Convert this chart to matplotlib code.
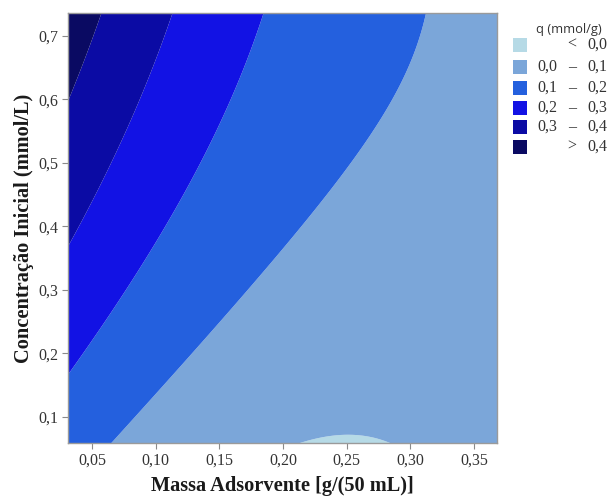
import numpy as np
import matplotlib
matplotlib.use("Agg")
import matplotlib.pyplot as plt
from matplotlib.patches import Rectangle

# Response-surface model q(m, C) = b0 + b1 m + b2 C + b11 m^2 + b22 C^2 + b12 m C
coef_names = ["b0", "b1", "b2", "b11", "b22", "b12"]
coef_values = [0.15152, -1.46499, 0.60431, 3.08407, -0.13611, -1.15666]

x_range = [0.031, 0.368]   # Massa Adsorvente
y_range = [0.059, 0.736]   # Concentração Inicial
levels = [-1.0, 0.0, 0.1, 0.2, 0.3, 0.4, 5.0]
colors = ["#b6dae6", "#7ba6d9", "#2460de", "#1212e4", "#0b0ba4", "#0a0a62"]
legend_labels = [("", "<", "0,0"), ("0,0", "–", "0,1"), ("0,1", "–", "0,2"),
                 ("0,2", "–", "0,3"), ("0,3", "–", "0,4"), ("", ">", "0,4")]
xticks = [0.05, 0.10, 0.15, 0.20, 0.25, 0.30, 0.35]
xticklabels = ["0,05", "0,10", "0,15", "0,20", "0,25", "0,30", "0,35"]
yticks = [0.1, 0.2, 0.3, 0.4, 0.5, 0.6, 0.7]
yticklabels = ["0,1", "0,2", "0,3", "0,4", "0,5", "0,6", "0,7"]

b = np.array(coef_values)
m = np.linspace(x_range[0], x_range[1], 400)
c = np.linspace(y_range[0], y_range[1], 400)
M, C = np.meshgrid(m, c)
Q = b[0] + b[1]*M + b[2]*C + b[3]*M**2 + b[4]*C**2 + b[5]*M*C

fig = plt.figure(figsize=(6.09, 4.98), dpi=100)
ax = fig.add_axes([68/609, 1-443/498, (497-68)/609, (443-13)/498])
ax.contourf(M, C, Q, levels=levels, colors=colors, antialiased=True)
ax.set_xlim(x_range)
ax.set_ylim(y_range)

serif = ["Liberation Serif", "DejaVu Serif"]
ax.set_xticks(xticks)
ax.set_xticklabels(xticklabels, fontfamily=serif, fontsize=11.5, color="#333333")
ax.set_yticks(yticks)
ax.set_yticklabels(yticklabels, fontfamily=serif, fontsize=11.5, color="#333333")
ax.tick_params(direction="out", length=4, width=0.8, color="#8a8a8a", pad=3)
for s in ax.spines.values():
    s.set_color("#9a9a9a")
    s.set_linewidth(1.0)

ax.set_xlabel("Massa Adsorvente [g/(50 mL)]", fontfamily=serif, fontweight="bold",
              fontsize=14.7, color="#1a1a1a", labelpad=5)
ax.set_ylabel("Concentração Inicial (mmol/L)", fontfamily=serif, fontweight="bold",
              fontsize=14.7, color="#1a1a1a", labelpad=3)

# Legend (drawn manually to match layout)
W, H = 609, 498
fig.text(569/W, 1-30/H, "q (mmol/g)", fontfamily=["Open Sans", "DejaVu Sans"],
         fontsize=9.3, color="#333333", ha="center", va="center")
row_y = [45, 67, 88, 108, 127, 147]
for yc, col, (lo, sym, hi) in zip(row_y, colors, legend_labels):
    fig.patches.append(Rectangle((513/W, 1-(yc+7)/H), 14/W, 14/H, transform=fig.transFigure,
                                 facecolor=col, edgecolor="none"))
    if lo:
        fig.text(557/W, 1-yc/H, lo, fontfamily=serif, fontsize=11.5, color="#333333",
                 ha="right", va="center")
    fig.text(572/W, 1-yc/H, sym, fontfamily=serif, fontsize=11.5, color="#333333",
             ha="center", va="center")
    fig.text(587/W, 1-yc/H, hi, fontfamily=serif, fontsize=11.5, color="#333333",
             ha="left", va="center")

fig.savefig("out.png", dpi=100)
